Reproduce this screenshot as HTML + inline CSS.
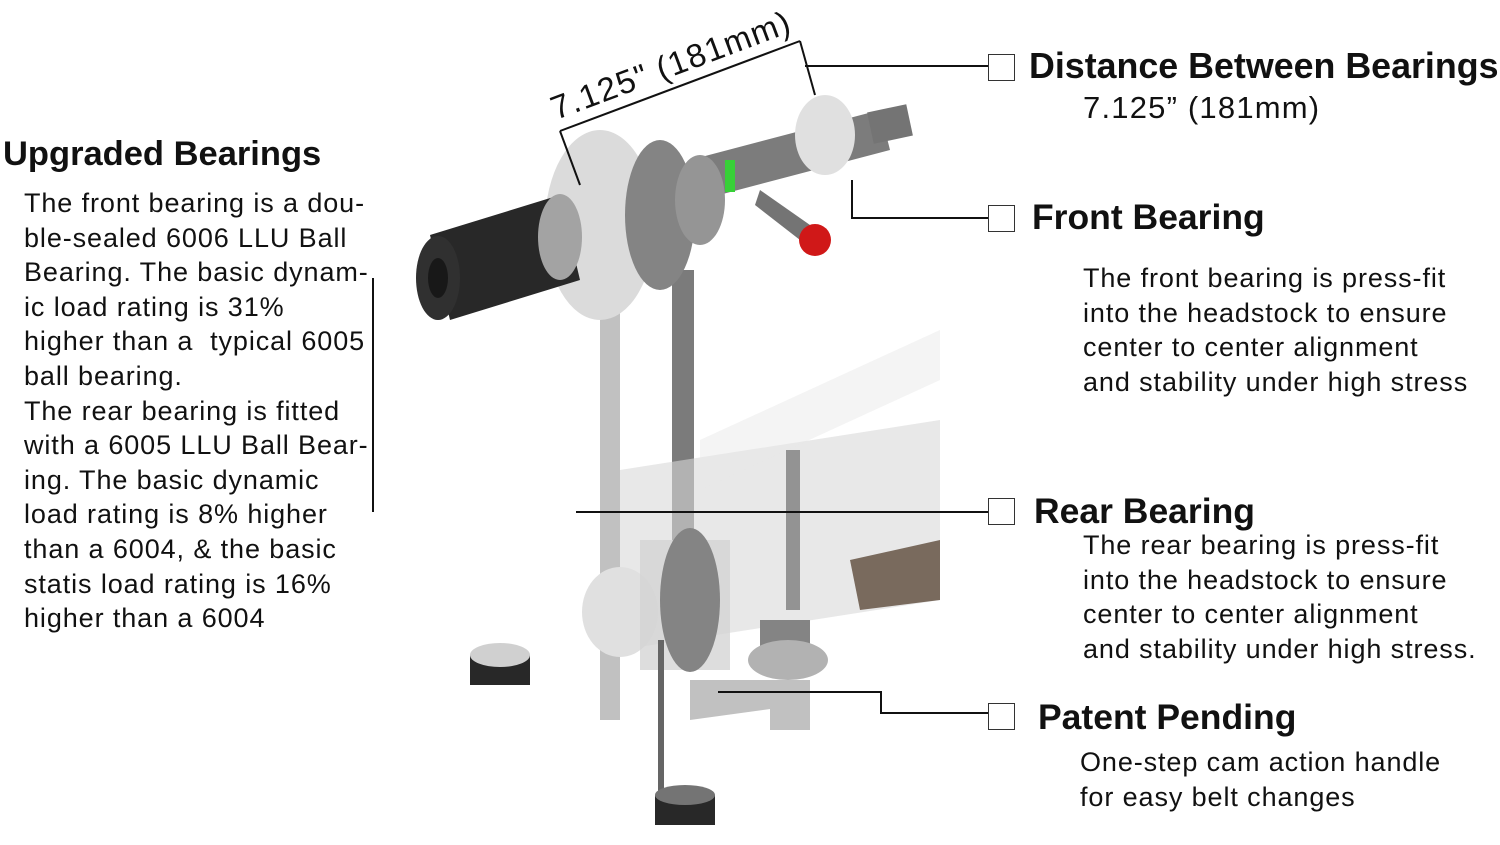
<!DOCTYPE html>
<html><head><meta charset="utf-8"><style>
html,body{margin:0;padding:0;background:#fff;}
body{width:1500px;height:845px;position:relative;overflow:hidden;font-family:"Liberation Sans","DejaVu Sans",sans-serif;color:#111;}
.t{position:absolute;white-space:nowrap;}
.h{font-weight:bold;font-size:35.5px;}
.b{font-size:27px;line-height:34.6px;letter-spacing:0.9px;}
.cb{position:absolute;width:25px;height:25px;border:1.5px solid #333;background:#fff;}
</style></head><body>
<svg width="1500" height="845" style="position:absolute;left:0;top:0">
<g opacity="0.9">
<rect x="600" y="290" width="20" height="430" fill="#bbb"/>
<rect x="672" y="270" width="22" height="320" fill="#6d6d6d"/>
<polygon points="620,470 940,420 940,600 620,650" fill="#d4d4d4" opacity="0.6"/>
<polygon points="700,440 940,330 940,380 700,490" fill="#e6e6e6" opacity="0.5"/>
<polygon points="850,560 940,540 940,600 860,610" fill="#6b5a4c"/>
<ellipse cx="620" cy="612" rx="38" ry="45" fill="#ddd"/>
<rect x="640" y="540" width="90" height="130" fill="#cfcfcf" opacity="0.8"/>
<ellipse cx="690" cy="600" rx="30" ry="72" fill="#777"/>
<rect x="786" y="450" width="14" height="160" fill="#888"/>
<rect x="760" y="620" width="50" height="40" fill="#777"/>
<ellipse cx="788" cy="660" rx="40" ry="20" fill="#aaa"/>
<polygon points="690,680 780,680 800,705 690,720" fill="#bbb"/>
<rect x="770" y="680" width="40" height="50" fill="#bbb"/>
<rect x="658" y="640" width="6" height="160" fill="#555"/>
<ellipse cx="685" cy="810" rx="30" ry="12" fill="#222"/>
<rect x="655" y="795" width="60" height="30" fill="#111"/>
<ellipse cx="685" cy="795" rx="30" ry="10" fill="#666"/>
<rect x="470" y="655" width="60" height="30" fill="#111"/>
<ellipse cx="500" cy="655" rx="30" ry="12" fill="#ccc"/>
<polygon points="690,160 880,110 890,150 700,200" fill="#6e6e6e"/>
<rect x="870" y="108" width="40" height="32" fill="#666" transform="rotate(-12 890 124)"/>
<ellipse cx="825" cy="135" rx="30" ry="40" fill="#ddd"/>
<polygon points="760,190 810,225 800,240 755,205" fill="#666"/>
<circle cx="815" cy="240" r="16" fill="#c00"/>
<rect x="725" y="160" width="10" height="32" fill="#2c2"/>
<ellipse cx="600" cy="225" rx="55" ry="95" fill="#d8d8d8"/>
<ellipse cx="660" cy="215" rx="35" ry="75" fill="#777"/>
<ellipse cx="700" cy="200" rx="25" ry="45" fill="#8a8a8a"/>
<polygon points="430,235 560,195 580,280 450,320" fill="#111"/>
<ellipse cx="560" cy="237" rx="22" ry="43" fill="#9a9a9a"/>
<ellipse cx="438" cy="278" rx="22" ry="42" fill="#1a1a1a"/>
<ellipse cx="438" cy="278" rx="10" ry="20" fill="#000"/>
</g>
<g stroke="#111" stroke-width="2" fill="none">
<line x1="560" y1="131" x2="800" y2="41"/>
<line x1="560" y1="131" x2="580" y2="185"/>
<line x1="800" y1="41" x2="815" y2="95"/>
<line x1="805" y1="66" x2="988" y2="66"/>
<polyline points="852,180 852,218 988,218"/>
<line x1="576" y1="512" x2="988" y2="512"/>
<polyline points="718,692 881,692 881,713 988,713"/>
<line x1="373" y1="278" x2="373" y2="512"/>
</g>
<text x="556" y="120" font-family="Liberation Sans, sans-serif" font-size="33" letter-spacing="1.3" fill="#111" transform="rotate(-20.5 556 120)">7.125" (181mm)</text>
</svg>

<div class="t h" style="left:3px;top:135px;font-size:34.5px;">Upgraded Bearings</div>
<div class="t b" style="left:24px;top:186px;">The front bearing is a dou-<br>ble-sealed 6006 LLU Ball<br>Bearing. The basic dynam-<br>ic load rating is 31%<br>higher than a&nbsp; typical 6005<br>ball bearing.<br>The rear bearing is fitted<br>with a 6005 LLU Ball Bear-<br>ing. The basic dynamic<br>load rating is 8% higher<br>than a 6004, &amp; the basic<br>statis load rating is 16%<br>higher than a 6004</div>

<div class="cb" style="left:988px;top:54px;"></div>
<div class="t h" style="left:1029px;top:46px;font-size:35.8px;">Distance Between Bearings</div>
<div class="t" style="left:1083px;top:90px;font-size:31px;letter-spacing:1.2px;">7.125” (181mm)</div>

<div class="cb" style="left:988px;top:205px;"></div>
<div class="t h" style="left:1032px;top:197px;">Front Bearing</div>
<div class="t b" style="left:1083px;top:261px;">The front bearing is press-fit<br>into the headstock to ensure<br>center to center alignment<br>and stability under high stress</div>

<div class="cb" style="left:988px;top:498px;"></div>
<div class="t h" style="left:1034px;top:491px;">Rear Bearing</div>
<div class="t b" style="left:1083px;top:528px;">The rear bearing is press-fit<br>into the headstock to ensure<br>center to center alignment<br>and stability under high stress.</div>

<div class="cb" style="left:988px;top:703px;"></div>
<div class="t h" style="left:1038px;top:697px;">Patent Pending</div>
<div class="t b" style="left:1080px;top:745px;">One-step cam action handle<br>for easy belt changes</div>
</body></html>
